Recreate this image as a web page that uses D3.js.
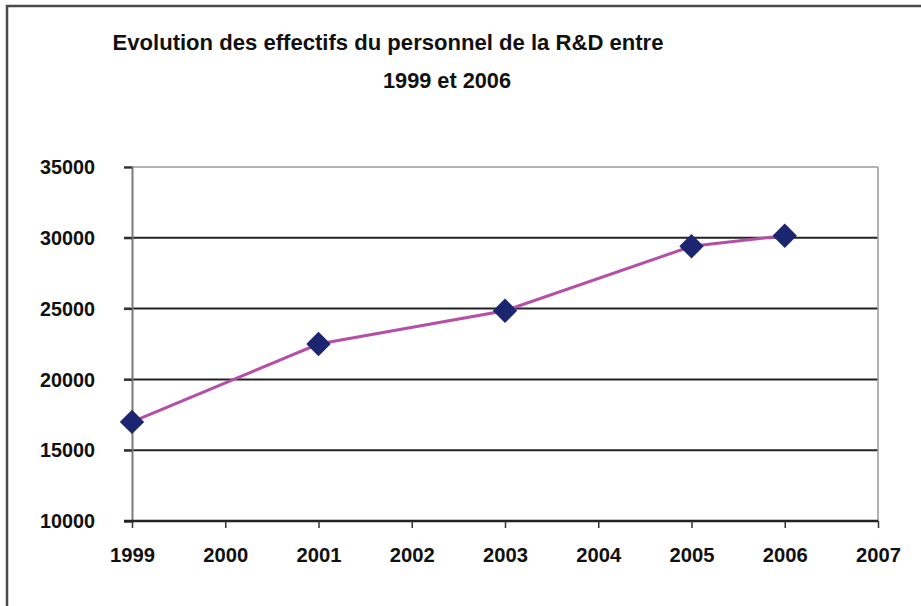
<!DOCTYPE html>
<html>
<head>
<meta charset="utf-8">
<script src="https://cdn.jsdelivr.net/npm/d3@7"></script>
<style>
  body { margin: 0; background: #fff; }
  text { font-family: "Liberation Sans", Arial, sans-serif; font-weight: bold; fill: #111; }
</style>
</head>
<body>
<div id="chart"></div>
<script>
// Chart data
const titleLines = ["Evolution des effectifs du personnel de la R&D entre", "1999 et 2006"];
const yearTicks = ["1999", "2000", "2001", "2002", "2003", "2004", "2005", "2006", "2007"];
const yearsMeasured = ["1999", "2001", "2003", "2005", "2006"];
const staffValues = [17000, 22500, 24850, 29400, 30150];
const yTicks = [10000, 15000, 20000, 25000, 30000, 35000];

const width = 921, height = 606;
const plot = { left: 132, right: 878, top: 167, bottom: 521 };

const svg = d3.select("#chart").append("svg")
    .attr("width", width).attr("height", height);

// Outer frame (only top and left edges are visible)
svg.append("path")
    .attr("d", `M7,${height} L7,6 L${width},6`)
    .attr("fill", "none").attr("stroke", "#4a4a4a").attr("stroke-width", 2.5);

// Title
svg.append("text").attr("x", 388).attr("y", 50)
    .attr("text-anchor", "middle").style("font-size", "22px")
    .attr("textLength", 551).attr("lengthAdjust", "spacingAndGlyphs")
    .text(titleLines[0]);
svg.append("text").attr("x", 447).attr("y", 88)
    .attr("text-anchor", "middle").style("font-size", "22px")
    .attr("textLength", 128).attr("lengthAdjust", "spacingAndGlyphs")
    .text(titleLines[1]);

// Scales
const x = d3.scalePoint().domain(yearTicks).range([plot.left, plot.right]);
const y = d3.scaleLinear().domain([10000, 35000]).range([plot.bottom, plot.top]);

// Gridlines (black for inner values, grey at the top)
svg.append("g").selectAll("line")
    .data(yTicks.filter(v => v > 10000))
    .join("line")
    .attr("x1", plot.left - 8).attr("x2", plot.right)
    .attr("y1", d => y(d)).attr("y2", d => y(d))
    .attr("stroke", d => d === 35000 ? "#9a9a9a" : "#222")
    .attr("stroke-width", d => d === 35000 ? 1.5 : 2);

// Right border of plot area
svg.append("line")
    .attr("x1", plot.right).attr("x2", plot.right)
    .attr("y1", plot.top).attr("y2", plot.bottom)
    .attr("stroke", "#9a9a9a").attr("stroke-width", 1.5);

// Y axis
const yAxis = svg.append("g").attr("transform", `translate(${plot.left},0)`)
    .call(d3.axisLeft(y).tickValues(yTicks).tickSize(8).tickPadding(29).tickFormat(d3.format("d")));
yAxis.select(".domain").attr("stroke", "#7a7a7a").attr("stroke-width", 2);
yAxis.selectAll(".tick line").attr("stroke", "#333").attr("stroke-width", 2);
yAxis.selectAll(".tick text").attr("textLength", 55).attr("lengthAdjust", "spacingAndGlyphs");

// X axis
const xAxis = svg.append("g").attr("transform", `translate(0,${plot.bottom})`)
    .call(d3.axisBottom(x).tickSize(7).tickPadding(19).tickSizeOuter(0));
xAxis.select(".domain").attr("stroke", "#222").attr("stroke-width", 2.5)
    .attr("d", `M${plot.left - 8},0H${plot.right}`);
xAxis.selectAll(".tick line").attr("stroke", "#333").attr("stroke-width", 1.5);
xAxis.selectAll(".tick text").attr("textLength", 45).attr("lengthAdjust", "spacingAndGlyphs");

svg.selectAll(".tick text")
    .attr("font-family", null).attr("font-size", null)
    .attr("fill", "#111").style("font-size", "21px");

// Series line
const points = yearsMeasured.map((yr, i) => ({ year: yr, value: staffValues[i] }));
svg.append("path")
    .datum(points)
    .attr("fill", "none").attr("stroke", "#b54ea6").attr("stroke-width", 3)
    .attr("d", d3.line().x(d => x(d.year)).y(d => y(d.value)));

// Diamond markers
svg.append("g").selectAll("path")
    .data(points)
    .join("path")
    .attr("transform", d => `translate(${x(d.year)},${y(d.value)})`)
    .attr("d", d3.symbol(d3.symbolDiamond2, 380))
    .attr("fill", "#1c2670");
</script>
</body>
</html>
